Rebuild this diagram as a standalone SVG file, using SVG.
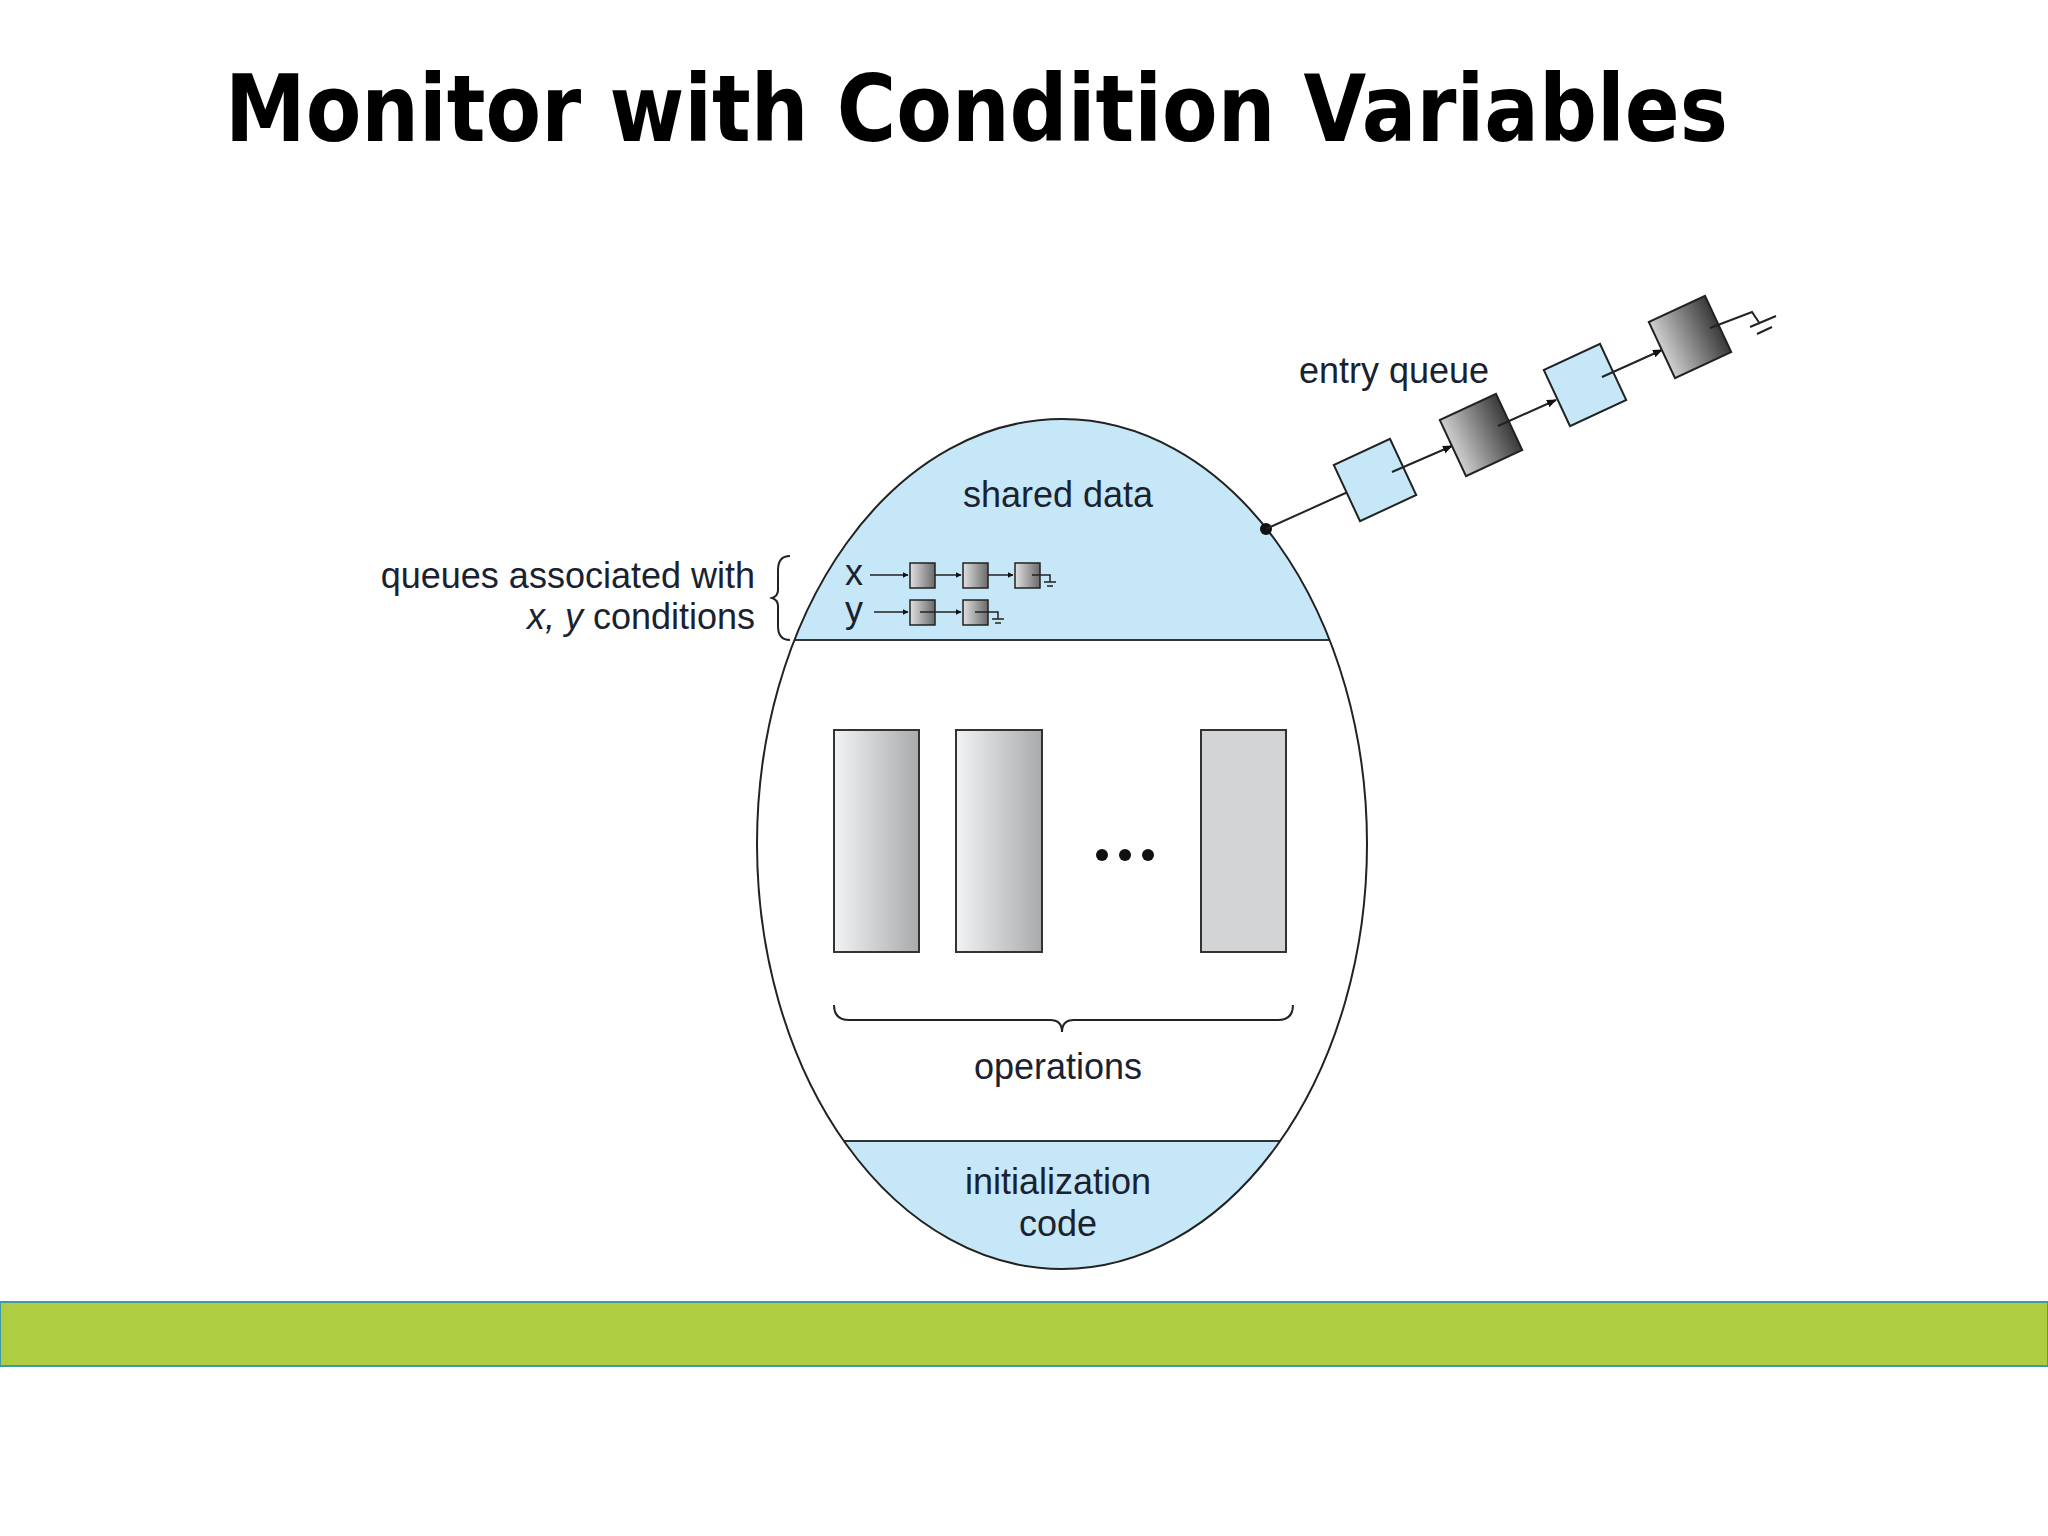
<svg xmlns="http://www.w3.org/2000/svg" width="2048" height="1536" viewBox="0 0 2048 1536">
<defs>
<linearGradient id="g1" x1="0" x2="1" y1="0" y2="0"><stop offset="0" stop-color="#f2f3f5"/><stop offset="1" stop-color="#a9aaac"/></linearGradient>
<linearGradient id="g2" x1="0" x2="1" y1="0" y2="0"><stop offset="0" stop-color="#e0e0e0"/><stop offset="1" stop-color="#6a6a6a"/></linearGradient>
<linearGradient id="g3" x1="0" x2="1" y1="0" y2="0"><stop offset="0" stop-color="#cfcfcf"/><stop offset="1" stop-color="#3a3a3a"/></linearGradient>
<clipPath id="ell"><ellipse cx="1062" cy="844" rx="305" ry="425"/></clipPath>
<marker id="ah" viewBox="0 0 10 10" refX="9" refY="5" markerWidth="4" markerHeight="4" orient="auto"><path d="M0,0L10,5L0,10z" fill="#111"/></marker>
<marker id="as" viewBox="0 0 10 10" refX="9" refY="5" markerWidth="5" markerHeight="5" orient="auto"><path d="M0,1L10,5L0,9z" fill="#111"/></marker>
</defs>
<style>
text{font-family:"Liberation Sans",Arial,sans-serif;fill:#1a2230}
.lbl{font-size:36px}
.ttl{font-family:"DejaVu Sans",Verdana,sans-serif;font-weight:bold;font-size:92px;fill:#000}
.ln{stroke:#222;fill:none;stroke-width:2}
.op{stroke:#333;stroke-width:2}
.q{stroke:#222;stroke-width:1.5}
.eq{stroke:#222;stroke-width:2}
</style>
<rect width="2048" height="1536" fill="#fff"/>
<text class="ttl" x="225" y="141" textLength="1503" lengthAdjust="spacingAndGlyphs">Monitor with Condition Variables</text>

<g id="monitor">
<ellipse cx="1062" cy="844" rx="305" ry="425" fill="#fff"/>
<g clip-path="url(#ell)">
<rect x="700" y="400" width="720" height="240" fill="#c6e7f7"/>
<rect x="700" y="1141" width="720" height="140" fill="#c6e7f7"/>
<line x1="700" y1="640" x2="1420" y2="640" stroke="#333" stroke-width="2"/>
<line x1="700" y1="1141" x2="1420" y2="1141" stroke="#333" stroke-width="2"/>
</g>
<ellipse cx="1062" cy="844" rx="305" ry="425" fill="none" stroke="#222" stroke-width="2"/>
<text class="lbl" x="1058" y="507" text-anchor="middle">shared data</text>
<text class="lbl" x="1058" y="1079" text-anchor="middle">operations</text>
<text class="lbl" x="1058" y="1194" text-anchor="middle">initialization</text>
<text class="lbl" x="1058" y="1236" text-anchor="middle">code</text>
</g>

<g id="operations">
<rect x="834" y="730" width="85" height="222" fill="url(#g1)" class="op"/>
<rect x="956" y="730" width="86" height="222" fill="url(#g1)" class="op"/>
<rect x="1201" y="730" width="85" height="222" fill="#d3d4d6" class="op"/>
<circle cx="1102" cy="855" r="6" fill="#111"/>
<circle cx="1125" cy="855" r="6" fill="#111"/>
<circle cx="1148" cy="855" r="6" fill="#111"/>
<path class="ln" d="M834,1005 q0,15 15,15 H1050 q12,0 12,12 q0,-12 12,-12 H1278 q15,0 15,-15" stroke-width="1.5"/>
</g>

<g id="cond-queues">
<text class="lbl" x="755" y="588" text-anchor="end">queues associated with</text>
<text class="lbl" x="755" y="629" text-anchor="end"><tspan font-style="italic">x, y</tspan> conditions</text>
<path class="ln" stroke-width="1.5" d="M790,556 q-12,0 -12,14 v20 q0,6 -6,8 q6,2 6,8 v20 q0,14 12,14"/>
<text class="lbl" x="845" y="585">x</text>
<text class="lbl" x="845" y="622">y</text>
<g class="q">
<line x1="870" y1="575" x2="908" y2="575" marker-end="url(#ah)"/>
<rect x="910" y="563" width="25" height="25" fill="url(#g2)"/>
<line x1="935" y1="575" x2="961" y2="575" marker-end="url(#ah)"/>
<rect x="963" y="563" width="25" height="25" fill="url(#g2)"/>
<line x1="988" y1="575" x2="1013" y2="575" marker-end="url(#ah)"/>
<rect x="1015" y="563" width="25" height="25" fill="url(#g2)"/>
<path d="M1032,575 H1050 v7 M1044,582 h12 M1047,586 h6" fill="none"/>
<line x1="874" y1="612" x2="908" y2="612" marker-end="url(#ah)"/>
<rect x="910" y="600" width="25" height="25" fill="url(#g2)"/>
<line x1="920" y1="612" x2="961" y2="612" marker-end="url(#ah)"/>
<rect x="963" y="600" width="25" height="25" fill="url(#g2)"/>
<path d="M975,612 H998 v7 M992,619 h12 M995,623 h6" fill="none"/>
</g>
</g>

<g id="entry-queue">
<text class="lbl" x="1299" y="383">entry queue</text>
<circle cx="1266" cy="529" r="6" fill="#111"/>
<line x1="1266" y1="529" x2="1350" y2="491" class="eq" stroke-width="3"/>
<g transform="translate(1375,480) rotate(-25)"><rect x="-31" y="-31" width="62" height="62" fill="#c6e7f7" class="eq"/></g>
<line x1="1392" y1="472" x2="1452" y2="446" class="eq" stroke-width="4" marker-end="url(#as)"/>
<g transform="translate(1481,435) rotate(-25)"><rect x="-31" y="-31" width="62" height="62" fill="url(#g3)" class="eq"/></g>
<line x1="1498" y1="426" x2="1556" y2="400" class="eq" stroke-width="4" marker-end="url(#as)"/>
<g transform="translate(1585,385) rotate(-25)"><rect x="-31" y="-31" width="62" height="62" fill="#c6e7f7" class="eq"/></g>
<line x1="1602" y1="377" x2="1662" y2="350" class="eq" stroke-width="4" marker-end="url(#as)"/>
<g transform="translate(1690,337) rotate(-25)"><rect x="-31" y="-31" width="62" height="62" fill="url(#g3)" class="eq"/></g>
<path d="M1710,328 L1752,312 L1760,324 M1750,327 L1776,316 M1757,334 L1772,327" class="eq" stroke-width="3" fill="none"/>
</g>

<rect x="0" y="1302" width="2048" height="64" fill="#aecd40" stroke="#3f9aa8" stroke-width="2"/>
</svg>
